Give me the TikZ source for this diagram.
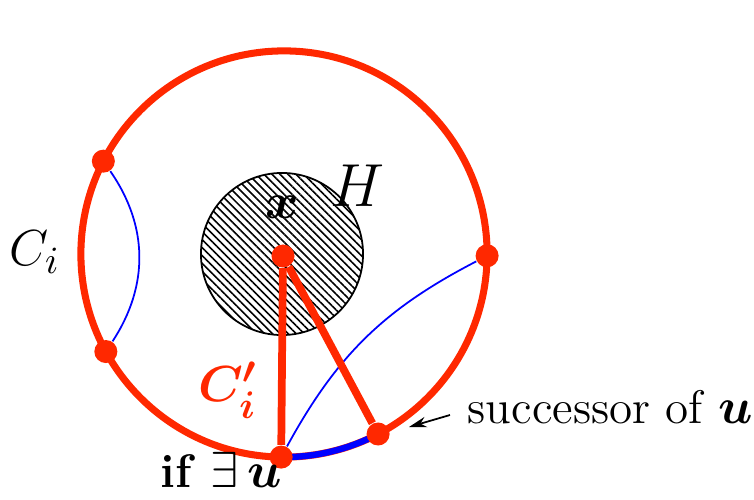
\documentclass[tikz,border=0pt]{standalone}
\usepackage{amsmath, amssymb, bm}
\usetikzlibrary{arrows.meta, patterns.meta, positioning}
\definecolor{cred}{RGB}{255,40,0}

\begin{document}
\begin{tikzpicture}[
          x=0.01cm, y=0.01cm,
          dot/.style={circle, fill=cred, inner sep=0pt, minimum size=0.23cm},
          cycle/.style={draw=cred, line width=2pt},
          chord/.style={blue, line width=0.5pt},
          spoke/.style={cred, line width=2.2pt},
          lbl/.style={font=\fontsize{13.4}{16}\selectfont, inner sep=0pt},
          arr/.style={-{Stealth[length=5pt, width=3pt]}, line width=0.5pt},
        ]
          \useasboundingbox (0,0) rectangle (754,499);
          \coordinate (o) at (284,245);
          % hatched ball H
          \draw[line width=0.5pt,
                pattern={Lines[angle=-45, distance=1.6pt, line width=0.45pt]}]
                (282,245) circle[radius=0.81cm];
          % the cycle C_i
          \draw[cycle] (o) circle[radius=2.03cm];
          \draw[blue, line width=1.8pt] (o) ++(-90.8:2.03cm)
                arc[start angle=-90.8, end angle=-62.4, radius=2.03cm];
          \path (o) ++(152.8:2.03cm) node[dot] (a) {};
          \path (o) ++(208.7:2.03cm) node[dot] (b) {};
          \path (o) ++(-0.5:2.03cm) node[dot] (r) {};
          \path (o) ++(-62.4:2.03cm) node[dot] (s) {};
          \path (o) ++(-90.8:2.03cm) node[dot] (u) {};
          \node[dot] (x) at (283,243) {};
          \draw[chord] (a) to[bend left=34] (b);
          \draw[chord] (u) to[bend left=17] (r);
          \draw[spoke] (x)--(u);
          \draw[spoke] (x)--(s);
          % labels
          \node[lbl, font=\fontsize{15.5}{18}\selectfont] (ci) at (35,247) {$C_i$};
          \node[lbl, text=cred, font=\fontsize{15}{17}\selectfont] (cip)
                at (228,109) {$\boldsymbol{C_i'}$};
          \node[lbl, font=\fontsize{14.4}{17}\selectfont] (xl) at (282,292) {$\boldsymbol{x}$};
          \node[lbl, font=\fontsize{16}{19}\selectfont] (hl) at (357,313) {$H$};
          \node[lbl, anchor=base west] (ifu) at (160,12) {\textbf{if} $\exists\,\boldsymbol{u}$};
          \node[lbl, anchor=base west] (succ) at (467,76) {successor of $\boldsymbol{u}$};
          \coordinate (tail) at (450,84);
          \coordinate (tip) at (409,72);
          \draw[arr] (tail)--(tip);
        \end{tikzpicture}
\end{document}
